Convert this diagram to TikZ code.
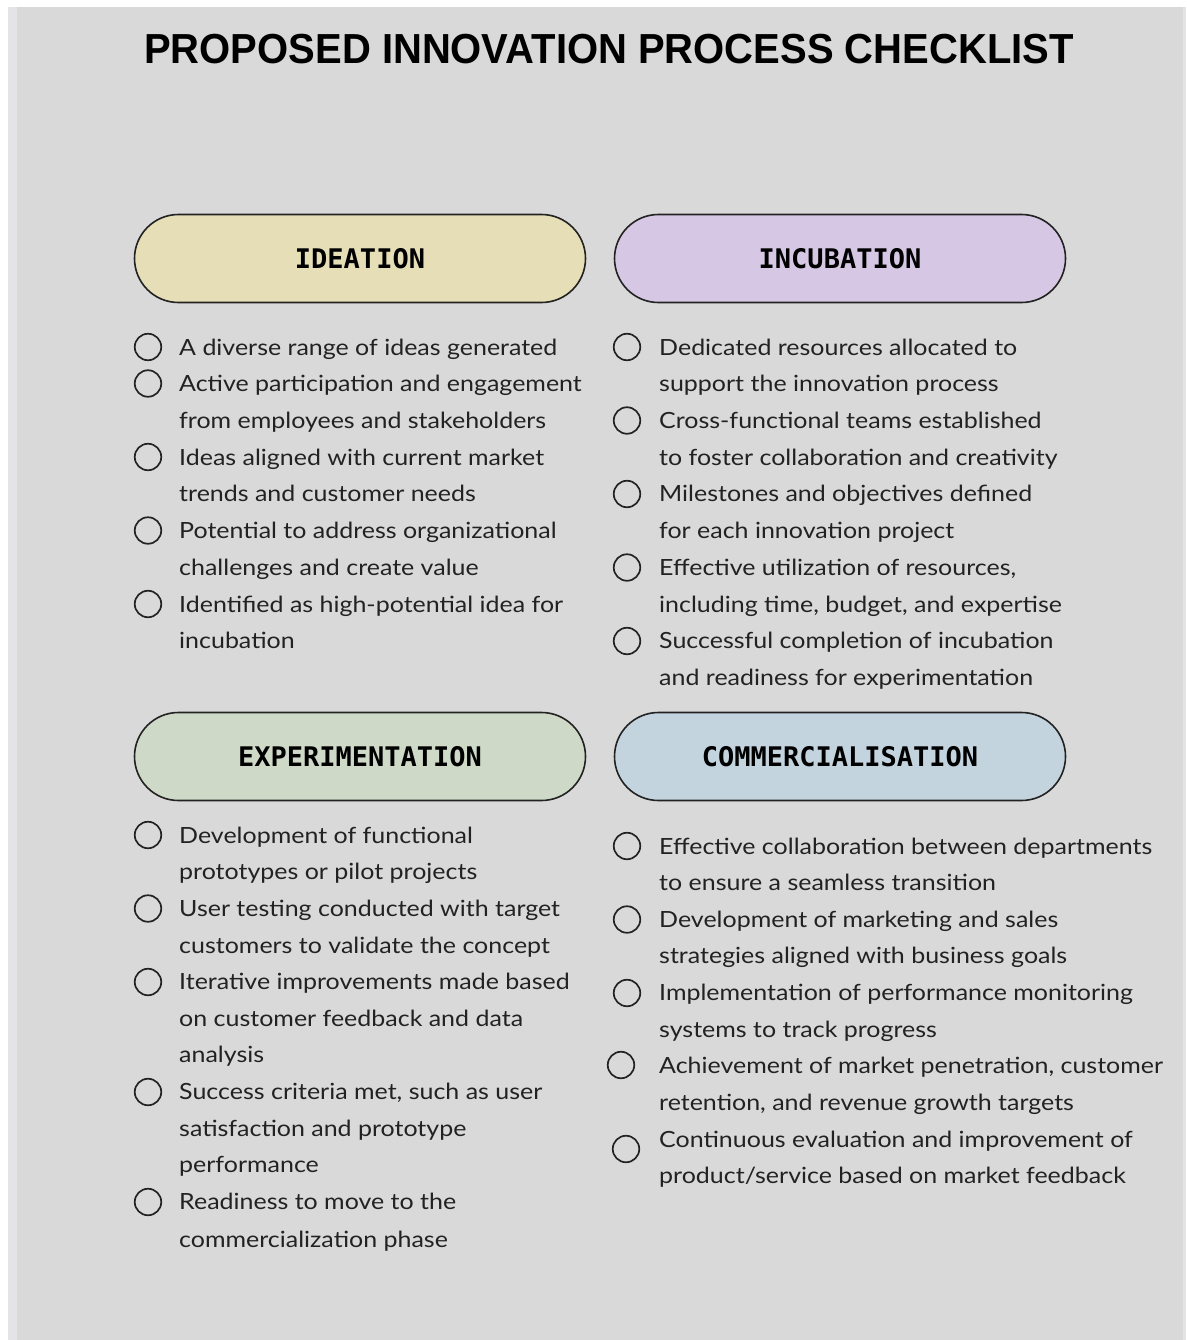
\documentclass[tikz,border=0pt]{standalone}
\usepackage{fontspec}
\setmainfont{Lato}[FakeStretch=1.12]
\newfontfamily\titlefont{Liberation Sans}[FakeStretch=0.952]
\newfontfamily\headfont{DejaVu Sans Mono}
\definecolor{page}{HTML}{D9D9D9}
\definecolor{edge}{HTML}{E4E4E8}
\definecolor{ink}{HTML}{222222}
\definecolor{ideafill}{HTML}{E5DEB6}
\definecolor{incufill}{HTML}{D6C8E4}
\definecolor{expfill}{HTML}{CFD9C8}
\definecolor{commfill}{HTML}{C4D4DF}
\begin{document}
\begin{tikzpicture}[x=1pt,y=-1pt,
  pill/.style={draw=ink, line width=1.6pt, rounded corners=44pt,
    minimum width=451pt, minimum height=88pt, inner sep=0pt,
    font=\headfont\bfseries\fontsize{27}{30}\selectfont},
  itemtext/.style={anchor=base west, inner sep=0pt, text=ink,
    font=\fontsize{22.3}{26}\selectfont},
  tick/.style={draw=ink, line width=1.7pt, circle, minimum size=26.5pt, inner sep=0pt}]
% page
\useasboundingbox (0,0) rectangle (1186,1340);
\fill[white] (0,0) rectangle (1186,1340);
\fill[edge] (8,7) rectangle (1186,1340);
\fill[page] (17,7) rectangle (1183,1340);
% title
\node[anchor=base, inner sep=0pt, font=\titlefont\bfseries\fontsize{42}{48}\selectfont] (title) at (609,64) {PROPOSED INNOVATION PROCESS CHECKLIST};
% phase headers
\node[pill, fill=ideafill] (ideation) at (360,258.5) {IDEATION};
\node[pill, fill=incufill] (incubation) at (840,258.5) {INCUBATION};
\node[pill, fill=expfill] (experimentation) at (360,756.5) {EXPERIMENTATION};
\node[pill, fill=commfill] (commercialisation) at (840,756.5) {COMMERCIALISATION};
% ideation checklist
\node[tick] (ci1) at (148,347) {};
\node[itemtext] (ti1a) at (179,355) {A diverse range of ideas generated};
\node[tick] (ci2) at (148,383.5) {};
\node[itemtext] (ti2a) at (179,391.5) {Active participation and engagement};
\node[itemtext] (ti2b) at (179,428) {from employees and stakeholders};
\node[tick] (ci3) at (148,457) {};
\node[itemtext] (ti3a) at (179,465) {Ideas aligned with current market};
\node[itemtext] (ti3b) at (179,501.5) {trends and customer needs};
\node[tick] (ci4) at (148,530.5) {};
\node[itemtext] (ti4a) at (179,538.5) {Potential to address organizational};
\node[itemtext] (ti4b) at (179,575) {challenges and create value};
\node[tick] (ci5) at (148,604) {};
\node[itemtext] (ti5a) at (179,612) {Identified as high-potential idea for};
\node[itemtext] (ti5b) at (179,648.5) {incubation};
% incubation checklist
\node[tick] (cn1) at (627,347) {};
\node[itemtext] (tn1a) at (659,355) {Dedicated resources allocated to};
\node[itemtext] (tn1b) at (659,391.5) {support the innovation process};
\node[tick] (cn2) at (627,420.5) {};
\node[itemtext] (tn2a) at (659,428) {Cross-functional teams established};
\node[itemtext] (tn2b) at (659,465) {to foster collaboration and creativity};
\node[tick] (cn3) at (627,494) {};
\node[itemtext] (tn3a) at (659,501.5) {Milestones and objectives defined};
\node[itemtext] (tn3b) at (659,538.5) {for each innovation project};
\node[tick] (cn4) at (627,567.5) {};
\node[itemtext] (tn4a) at (659,575) {Effective utilization of resources,};
\node[itemtext] (tn4b) at (659,612) {including time, budget, and expertise};
\node[tick] (cn5) at (627,641) {};
\node[itemtext] (tn5a) at (659,648.5) {Successful completion of incubation};
\node[itemtext] (tn5b) at (659,685) {and readiness for experimentation};
% experimentation checklist
\node[tick] (ce1) at (148,835) {};
\node[itemtext] (te1a) at (179,843) {Development of functional};
\node[itemtext] (te1b) at (179,879.5) {prototypes or pilot projects};
\node[tick] (ce2) at (148,908.5) {};
\node[itemtext] (te2a) at (179,916.5) {User testing conducted with target};
\node[itemtext] (te2b) at (179,953) {customers to validate the concept};
\node[tick] (ce3) at (148,982) {};
\node[itemtext] (te3a) at (179,989.5) {Iterative improvements made based};
\node[itemtext] (te3b) at (179,1026) {on customer feedback and data};
\node[itemtext] (te3c) at (179,1062.5) {analysis};
\node[tick] (ce4) at (148,1092) {};
\node[itemtext] (te4a) at (179,1099.5) {Success criteria met, such as user};
\node[itemtext] (te4b) at (179,1136) {satisfaction and prototype};
\node[itemtext] (te4c) at (179,1172.5) {performance};
\node[tick] (ce5) at (148,1202) {};
\node[itemtext] (te5a) at (179,1209.5) {Readiness to move to the};
\node[itemtext] (te5b) at (179,1247) {commercialization phase};
% commercialisation checklist
\node[tick] (cc1) at (627,846) {};
\node[itemtext] (tc1a) at (659,854) {Effective collaboration between departments};
\node[itemtext] (tc1b) at (659,890) {to ensure a seamless transition};
\node[tick] (cc2) at (627,919.5) {};
\node[itemtext] (tc2a) at (659,927) {Development of marketing and sales};
\node[itemtext] (tc2b) at (659,963.5) {strategies aligned with business goals};
\node[tick] (cc3) at (627,993) {};
\node[itemtext] (tc3a) at (659,1000.5) {Implementation of performance monitoring};
\node[itemtext] (tc3b) at (659,1037) {systems to track progress};
\node[tick] (cc4) at (621,1065) {};
\node[itemtext] (tc4a) at (659,1073.5) {Achievement of market penetration, customer};
\node[itemtext] (tc4b) at (659,1110) {retention, and revenue growth targets};
\node[tick] (cc5) at (626,1149) {};
\node[itemtext] (tc5a) at (659,1147) {Continuous evaluation and improvement of};
\node[itemtext] (tc5b) at (659,1183.5) {product/service based on market feedback};
\end{tikzpicture}
\end{document}
